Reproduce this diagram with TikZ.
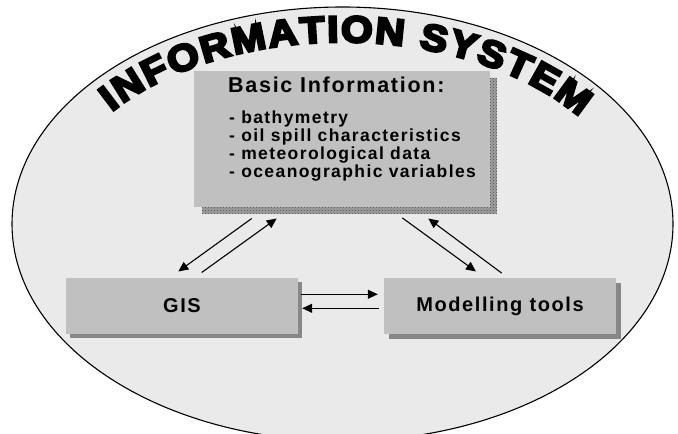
\documentclass[tikz,border=0pt]{standalone}
\usepackage{fontspec}
\setmainfont{Liberation Sans}
\newfontfamily\boxfont{Liberation Sans}[LetterSpace=8]
\newfontfamily\titlefont{Liberation Sans Bold}[FakeBold=7,FakeStretch=1.1]
\usetikzlibrary{arrows.meta,patterns,decorations.text,calc}
\definecolor{ellfill}{HTML}{EAEAEA}
\definecolor{boxfill}{HTML}{C0C0C0}
\definecolor{shadowgray}{HTML}{878787}
\definecolor{texgray}{HTML}{A0A0A0}
\definecolor{texdark}{HTML}{4A4A4A}
\begin{document}
\begin{tikzpicture}[x=1pt,y=1pt,
  box/.style={fill=boxfill, draw=none, inner sep=0pt},
  boxlabel/.style={font=\boxfont\bfseries\fontsize{20}{24}\selectfont},
  hdrtext/.style={anchor=base west, inner sep=0pt, font=\boxfont\bfseries\fontsize{21.5}{25}\selectfont},
  itemtext/.style={anchor=base west, inner sep=0pt, font=\boxfont\bfseries\fontsize{17.5}{20}\selectfont},
  shade/.style={fill=shadowgray},
  texshade/.style={fill=texgray, postaction={pattern=crosshatch dots, pattern color=texdark}},
  arr/.style={line width=1.1pt, -{Triangle[length=10pt,width=9pt]}}]
\useasboundingbox (0,0) rectangle (678,434);
\begin{scope}
\clip (0,0) rectangle (678,434);
\draw[fill=ellfill, line width=1.1pt] (342.5,210) ellipse [x radius=330.5pt, y radius=217pt];
\end{scope}
% title along arc
\path[decorate, decoration={text along path, text align={fit to path},
  text={|\titlefont\fontsize{37}{37}\selectfont|INFORMATION SYSTEM}}]
  (342.5,210) ++(142:293pt and 182pt)
  arc[start angle=142, end angle=36, x radius=293pt, y radius=182pt];
% shadows
\fill[texshade] (202,220) rectangle (497,356);
\fill[shade] (70,95.5) rectangle (302,151.5);
\fill[shade] (389,95) rectangle (621,151);
% boxes
\node[box, minimum width=296pt, minimum height=136pt] (info) at (342,295) {};
\node[box, boxlabel, minimum width=232pt, minimum height=56pt] (gis) at (182,128) {GIS};
\node[box, boxlabel, minimum width=232pt, minimum height=56pt] (model) at (500,128) {Modelling tools};
% box text
\node[hdrtext] (hdr) at (228,341) {Basic Information:};
\node[itemtext] (i1) at (229,310) {- bathymetry};
\node[itemtext] (i2) at (229,292) {- oil spill characteristics};
\node[itemtext] (i3) at (229,274) {- meteorological data};
\node[itemtext] (i4) at (229,256) {- oceanographic variables};
% arrows
\draw[arr] ([shift={(-90.3,-11.3)}]info.south) -- ([shift={(-3.7,6.3)}]gis.north);
\draw[arr] ([shift={(19.7,5.3)}]gis.north) -- ([shift={(-65.3,-11.3)}]info.south);
\draw[arr] ([shift={(60.3,-10.7)}]info.south) -- ([shift={(-24,6.3)}]model.north);
\draw[arr] ([shift={(1.7,4.7)}]model.north) -- ([shift={(86.3,-11.3)}]info.south);
\draw[arr] ([shift={(3,11.7)}]gis.east) -- ([shift={(-6,11.7)}]model.west);
\draw[arr] ([shift={(-5,-2.3)}]model.west) -- ([shift={(4,-2.3)}]gis.east);
\end{tikzpicture}
\end{document}
